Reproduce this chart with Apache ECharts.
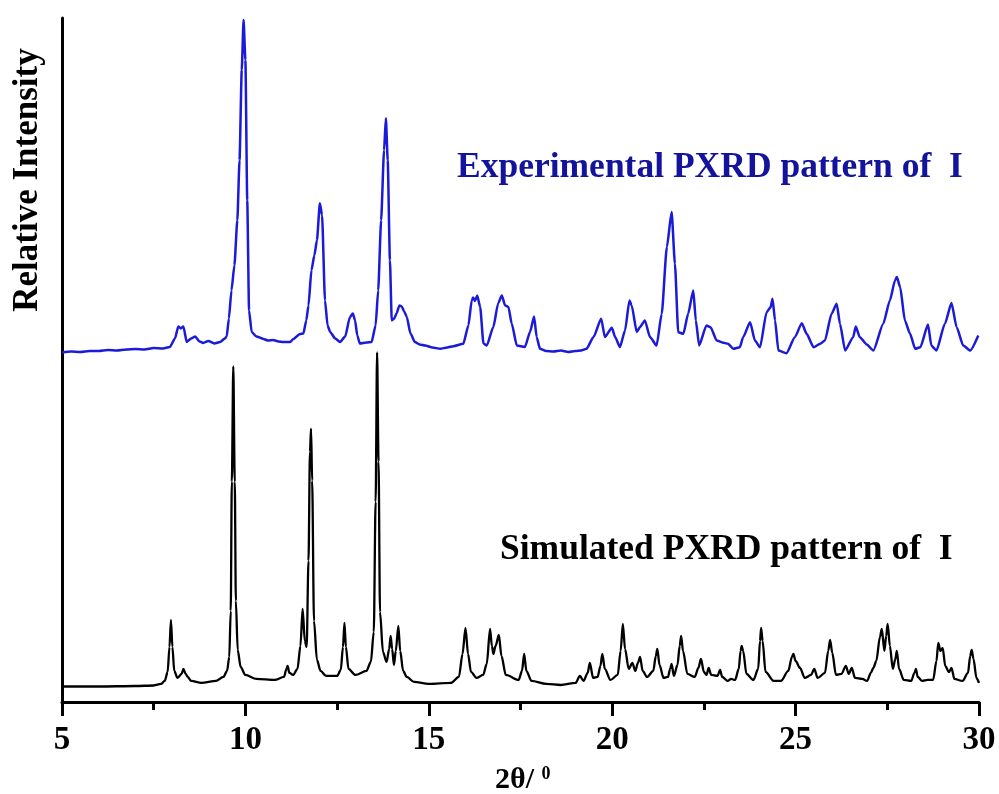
<!DOCTYPE html>
<html>
<head>
<meta charset="utf-8">
<script src="https://cdn.jsdelivr.net/npm/echarts@6/dist/echarts.min.js"></script>
<style>
html, body { margin: 0; padding: 0; background: #fff; }
#main { width: 999px; height: 794px; }
</style>
</head>
<body>
<div id="main"></div>
<script>
// experimental pattern (blue), [2theta, relative intensity incl. stack offset]
var expPattern = [
  [5.00,349],[5.25,350],[5.50,349.5],[5.75,350.5],[6.00,350.5],[6.25,351.5],[6.50,351],[6.75,352],[7.00,352.5],[7.25,352],[7.50,353.5],[7.75,353],[7.94,354.5],
  [8.08,363],[8.17,375],[8.24,373],[8.31,375],[8.40,359.5],[8.52,363],[8.63,365],[8.75,360],[8.85,358.5],[8.99,360.5],[9.15,358],[9.31,359.5],[9.44,363],[9.49,365],
  [9.55,383],[9.62,411],[9.70,436],[9.78,481],[9.84,541],[9.90,631],[9.95,681],[10.00,641],[10.05,501],[10.10,391],[10.17,369.5],[10.30,365],[10.49,362.5],
  [10.62,361],[10.76,361.5],[10.90,360],[11.03,359.5],[11.22,359.5],[11.31,362.5],[11.49,367.5],[11.58,368],[11.66,381],[11.72,396],[11.80,431],[11.88,446],
  [11.95,461],[12.03,498],[12.09,486],[12.17,401],[12.24,376],[12.31,369.5],[12.45,363],[12.58,359.5],[12.72,365],[12.85,384.5],[12.93,388],[12.99,381],
  [13.05,366],[13.12,358],[13.30,359],[13.44,359.5],[13.55,376],[13.62,411],[13.70,481],[13.78,551],[13.83,583],[13.88,541],[13.94,441],[13.99,381],
  [14.06,383],[14.12,388],[14.20,396],[14.26,395],[14.33,390],[14.40,384.5],[14.50,368],[14.62,359.5],[14.75,357],[14.90,356],[15.10,354],[15.31,352.7],
  [15.50,354],[15.67,355.3],[15.94,357.7],[16.08,376],[16.17,401],[16.21,404],[16.26,400.5],[16.32,406],[16.40,394.5],[16.49,358],[16.58,356],[16.76,374.5],
  [16.89,398],[16.99,406],[17.08,396],[17.17,394.5],[17.26,378],[17.40,356],[17.62,354.5],[17.76,369.5],[17.87,385],[17.94,364.5],[18.03,352.7],
  [18.2,350.5],[18.4,350],[18.6,351],[18.8,349.5],[19.0,350.5],[19.15,351],[19.30,352.7],[19.49,364.5],[19.70,382.7],[19.80,364.5],[19.99,373.7],[20.08,364.5],
  [20.21,354.5],[20.35,371],[20.47,401],[20.53,396],[20.67,369.5],[20.76,374.5],[20.89,381],[21.03,364.5],[21.21,356],[21.35,387.7],[21.49,454.3],
  [21.62,489.3],[21.71,437.7],[21.80,369.3],[21.94,367.7],[22.07,387.7],[22.21,411],[22.28,381],[22.37,356],[22.57,376],[22.68,374.3],[22.85,361],
  [23.00,359],[23.16,357.7],[23.30,352.7],[23.48,354.3],[23.57,364.3],[23.76,379.3],[23.89,361],[24.03,354.3],[24.21,389.3],[24.32,394.3],[24.37,402.7],
  [24.44,381],[24.53,351],[24.75,348.3],[24.98,364.3],[25.17,378.3],[25.30,367.7],[25.49,354.3],[25.67,357.7],[25.80,361],[25.98,387.7],[26.12,397.7],
  [26.21,377.7],[26.35,351],[26.57,364.3],[26.64,375],[26.75,364.3],[26.94,357],[27.12,351],[27.39,377.7],[27.57,401],[27.71,421],[27.76,424.3],
  [27.85,414.3],[27.98,381],[28.12,367.7],[28.26,352.7],[28.40,354.3],[28.61,377],[28.70,356],[28.84,351],[29.07,377.7],[29.25,398.3],[29.39,374.3],
  [29.57,356],[29.76,351],[29.98,366]
];

// simulated pattern (black)
var simPattern = [
  [5.00,15.5],[6.00,15.5],[7.00,16],[7.50,16.5],[7.70,18],[7.80,21],[7.88,30],[7.93,55],[7.97,82],[8.01,55],[8.06,31],[8.15,24],[8.26,28],[8.31,33],[8.37,28],
  [8.43,25],[8.52,21],[8.80,19],[9.20,21],[9.40,25],[9.50,31],[9.56,45],[9.60,91],[9.63,220],[9.67,335],[9.71,220],[9.74,101],[9.79,52],[9.87,35],[10.0,27],[10.3,23],
  [10.8,22],[11.05,25],[11.12,33],[11.15,36],[11.20,29],[11.30,27],[11.42,33],[11.50,56],[11.56,93],[11.62,61],[11.67,55],[11.72,141],[11.76,250],
  [11.79,273],[11.82,221],[11.87,81],[11.95,42],[12.05,31],[12.2,26],[12.5,26],[12.60,32],[12.66,55],[12.70,79],[12.74,55],[12.81,33],[13.0,27],[13.30,31],
  [13.42,40],[13.50,70],[13.55,200],[13.59,349],[13.63,240],[13.67,90],[13.75,50],[13.85,40],[13.92,53],[13.96,66],[14.00,53],[14.05,37],[14.10,51],
  [14.17,76],[14.22,51],[14.30,31],[14.40,25],[14.60,20],[15.0,18],[15.6,19],[15.82,25],[15.92,48],[16.00,74],[16.07,48],[16.15,30],[16.30,24],
  [16.48,27],[16.58,38],[16.67,73],[16.72,56],[16.76,48],[16.82,56],[16.91,67],[16.98,46],[17.10,27],[17.45,22],[17.54,31],[17.60,48],[17.66,31],
  [17.80,21],[18.2,18],[18.6,17],[19.0,19],[19.12,26],[19.22,21],[19.33,29],[19.39,39],[19.48,24],[19.60,25],[19.68,36],[19.73,48],[19.80,33],
  [19.95,22],[20.15,27],[20.23,51],[20.29,78],[20.35,53],[20.45,33],[20.55,39],[20.63,31],[20.70,39],[20.76,45],[20.83,31],[20.95,25],[21.12,31],
  [21.19,46],[21.23,53],[21.29,37],[21.40,24],[21.52,25],[21.58,33],[21.62,38],[21.68,26],[21.78,37],[21.84,56],[21.88,66],[21.93,51],[22.05,28],
  [22.25,25],[22.35,34],[22.42,43],[22.50,30],[22.57,27],[22.63,34],[22.70,27],[22.87,26],[22.94,32],[23.00,25],[23.15,21],[23.24,23],[23.35,22],
  [23.45,33],[23.50,51],[23.53,56],[23.57,51],[23.66,28],[23.85,22],[23.98,33],[24.03,61],[24.06,74],[24.10,61],[24.18,30],[24.40,21],[24.60,21],
  [24.80,31],[24.90,45],[24.94,48],[25.00,41],[25.12,34],[25.25,24],[25.42,27],[25.51,33],[25.60,24],[25.80,29],[25.89,51],[25.94,62],[26.00,49],
  [26.10,27],[26.25,28],[26.37,36],[26.45,28],[26.53,34],[26.62,24],[26.82,23],[26.95,21],[27.05,29],[27.12,34],[27.20,41],[27.30,65],[27.35,73],
  [27.42,51],[27.47,66],[27.51,78],[27.57,56],[27.65,33],[27.72,43],[27.76,51],[27.82,33],[27.95,22],[28.15,21],[28.24,29],[28.28,33],[28.33,25],
  [28.45,21],[28.60,22],[28.75,22],[28.84,41],[28.89,59],[28.95,51],[29.01,54],[29.08,36],[29.18,30],[29.25,34],[29.33,23],[29.55,21],[29.70,29],
  [29.76,46],[29.80,52],[29.85,43],[29.93,24],[30.00,19]
];

var expLabel = 'Experimental PXRD pattern of  I';
var simLabel = 'Simulated PXRD pattern of  I';

var serif = '"Liberation Serif", "Times New Roman", serif';

var chart = echarts.init(document.getElementById('main'));

var option = {
  animation: false,
  backgroundColor: '#fff',
  grid: { left: 62, right: 20, top: 18, bottom: 92 },
  xAxis: {
    type: 'value',
    min: 5,
    max: 30,
    interval: 5,
    axisLine: { lineStyle: { color: '#000', width: 3 } },
    axisTick: { length: 14, lineStyle: { color: '#000', width: 3 } },
    minorTick: { show: true, splitNumber: 2, length: 8, lineStyle: { color: '#000', width: 3 } },
    splitLine: { show: false },
    axisLabel: { color: '#000', fontFamily: serif, fontWeight: 'bold', fontSize: 33, margin: 22 }
  },
  yAxis: {
    type: 'value',
    min: 0,
    max: 683,
    axisLine: { show: true, lineStyle: { color: '#000', width: 3 } },
    axisTick: { show: false },
    axisLabel: { show: false },
    splitLine: { show: false }
  },
  graphic: [
    {
      type: 'text', x: 28, y: 180, rotation: Math.PI / 2,
      style: { text: 'Relative Intensity', font: 'bold 35px ' + serif, fill: '#000', align: 'center', verticalAlign: 'middle' }
    },
    {
      type: 'text', x: 457, y: 168,
      style: { text: expLabel, font: 'bold 35.5px ' + serif, fill: '#13139c', align: 'left', verticalAlign: 'middle' }
    },
    {
      type: 'text', x: 500, y: 550,
      style: { text: simLabel, font: 'bold 35.5px ' + serif, fill: '#000', align: 'left', verticalAlign: 'middle' }
    },
    {
      type: 'text', x: 495, y: 780,
      style: {
        text: '{a|2θ/ }{b|0}',
        align: 'left', verticalAlign: 'middle',
        rich: {
          a: { font: 'bold 30px ' + serif, fill: '#000' },
          b: { font: 'bold 18px ' + serif, fill: '#000', verticalAlign: 'top' }
        }
      }
    }
  ],
  series: [
    {
      name: 'Experimental',
      type: 'line',
      data: expPattern,
      showSymbol: false,
      smooth: 0.2,
      smoothMonotone: 'x',
      lineStyle: { color: '#1a1ad8', width: 2.5 },
      z: 3
    },
    {
      name: 'Simulated',
      type: 'line',
      data: simPattern,
      showSymbol: false,
      smooth: 0.3,
      smoothMonotone: 'x',
      lineStyle: { color: '#000', width: 2.3 },
      z: 3
    }
  ]
};

chart.setOption(option);
</script>
</body>
</html>
